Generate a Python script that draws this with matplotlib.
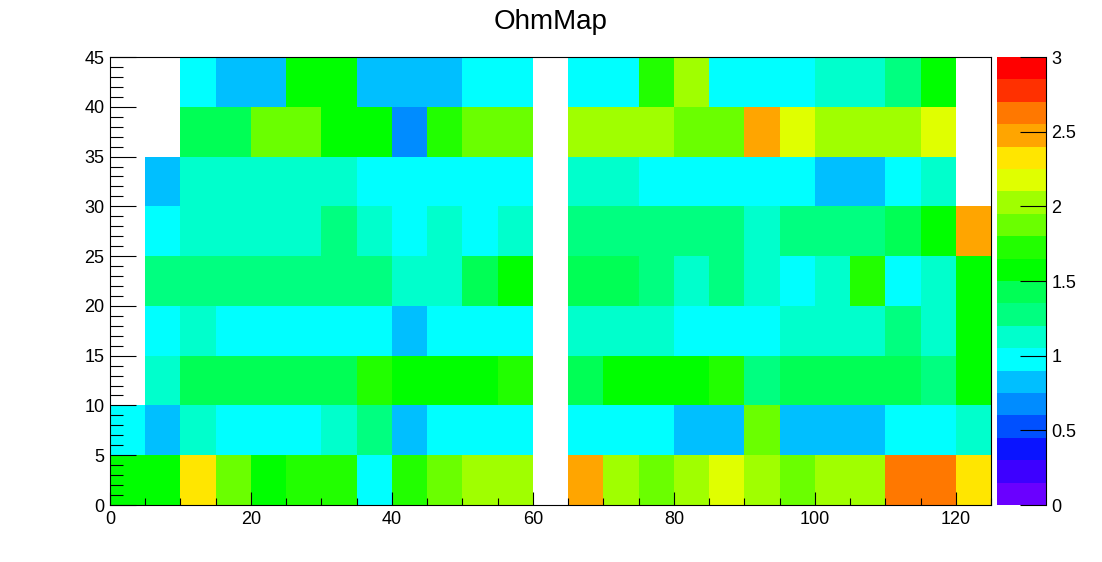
import numpy as np
import matplotlib
matplotlib.use("Agg")
import matplotlib.pyplot as plt
from matplotlib.colors import ListedColormap, BoundaryNorm
from matplotlib.ticker import MultipleLocator, FuncFormatter

plt.rcParams['font.family'] = ['Liberation Sans', 'DejaVu Sans']

# bin edges
x_edges = np.arange(0, 130, 5)   # 25 bins, 0..125
y_edges = np.arange(0, 50, 5)    # 9 bins, 0..45

nan = np.nan
# rows from y=0-5 (bottom) up to y=40-45 (top), columns x=0-5 .. 120-125
row0 = [1.57, 1.57, 2.32, 1.87, 1.57, 1.72, 1.72, 0.97, 1.72, 1.87, 2.02, 2.02, nan,
        2.47, 2.02, 1.87, 2.02, 2.17, 2.02, 1.87, 2.02, 2.02, 2.62, 2.62, 2.32]
row1 = [0.97, 0.82, 1.12, 0.97, 0.97, 0.97, 1.12, 1.28, 0.82, 0.97, 0.97, 0.97, nan,
        0.97, 0.97, 0.97, 0.82, 0.82, 1.87, 0.82, 0.82, 0.82, 0.97, 0.97, 1.12]
row2 = [nan, 1.12, 1.42, 1.42, 1.42, 1.42, 1.42, 1.72, 1.57, 1.57, 1.57, 1.72, nan,
        1.42, 1.57, 1.57, 1.57, 1.72, 1.28, 1.42, 1.42, 1.42, 1.42, 1.28, 1.57]
row3 = [nan, 0.97, 1.12, 0.97, 0.97, 0.97, 0.97, 0.97, 0.82, 0.97, 0.97, 0.97, nan,
        1.12, 1.12, 1.12, 0.97, 0.97, 0.97, 1.12, 1.12, 1.12, 1.28, 1.12, 1.57]
row4 = [nan, 1.28, 1.28, 1.28, 1.28, 1.28, 1.28, 1.28, 1.12, 1.12, 1.42, 1.57, nan,
        1.42, 1.42, 1.28, 1.12, 1.28, 1.12, 0.97, 1.12, 1.72, 0.97, 1.12, 1.57]
row5 = [nan, 0.97, 1.12, 1.12, 1.12, 1.12, 1.28, 1.12, 0.97, 1.12, 0.97, 1.12, nan,
        1.28, 1.28, 1.28, 1.28, 1.28, 1.12, 1.28, 1.28, 1.28, 1.42, 1.57, 2.47]
row6 = [nan, 0.82, 1.12, 1.12, 1.12, 1.12, 1.12, 0.97, 0.97, 0.97, 0.97, 0.97, nan,
        1.12, 1.12, 0.97, 0.97, 0.97, 0.97, 0.97, 0.82, 0.82, 0.97, 1.12, nan]
row7 = [nan, nan, 1.42, 1.42, 1.87, 1.87, 1.57, 1.57, 0.67, 1.72, 1.87, 1.87, nan,
        2.02, 2.02, 2.02, 1.87, 1.87, 2.47, 2.17, 2.02, 2.02, 2.02, 2.17, nan]
row8 = [nan, nan, 0.97, 0.82, 0.82, 1.57, 1.57, 0.82, 0.82, 0.82, 0.97, 0.97, nan,
        0.97, 0.97, 1.72, 2.02, 0.97, 0.97, 0.97, 1.12, 1.12, 1.28, 1.57, nan]

ohm = np.ma.masked_invalid(np.array([row0, row1, row2, row3, row4, row5, row6, row7, row8]))

# ROOT-like rainbow palette, 20 contour levels between 0 and 3
palette = ['#6a00ff', '#3d00ff', '#0a14ff', '#0050ff', '#008cff',
           '#00bfff', '#00ffff', '#00ffcc', '#00ff80', '#00ff55',
           '#00ff00', '#22ff00', '#6aff00', '#a0ff00', '#e0ff00',
           '#ffe600', '#ffa500', '#ff7800', '#ff3000', '#ff0000']
levels = np.linspace(0, 3, 21)
cmap = ListedColormap(palette)
norm = BoundaryNorm(levels, cmap.N)

fig = plt.figure(figsize=(11.02, 5.62), dpi=100)
ax = fig.add_axes([110/1102, 57/562, 881/1102, 448/562])
cax = fig.add_axes([997/1102, 57/562, 49/1102, 448/562])

mesh = ax.pcolormesh(x_edges, y_edges, ohm, cmap=cmap, norm=norm)
ax.set_xlim(0, 125)
ax.set_ylim(0, 45)

ax.xaxis.set_major_locator(MultipleLocator(20))
ax.xaxis.set_minor_locator(MultipleLocator(5))
ax.yaxis.set_major_locator(MultipleLocator(5))
ax.yaxis.set_minor_locator(MultipleLocator(1))
ax.tick_params(axis='x', which='major', direction='in', length=9.4, width=0.8,
               labelsize=13, pad=4, top=False)
ax.tick_params(axis='x', which='minor', direction='in', length=4.7, width=0.8, top=False)
ax.tick_params(axis='y', which='major', direction='in', length=18.7, width=0.8,
               labelsize=13, pad=4, right=False)
ax.tick_params(axis='y', which='minor', direction='in', length=9.4, width=0.8, right=False)
for s in ax.spines.values():
    s.set_linewidth(0.8)

ax.set_title("OhmMap", fontsize=20, pad=20)

cb = fig.colorbar(mesh, cax=cax)
cb.outline.set_visible(False)
cb.set_ticks([0, 0.5, 1, 1.5, 2, 2.5, 3])
cb.minorticks_off()
cax.yaxis.set_major_formatter(FuncFormatter(lambda v, p: '%g' % v))
cax.tick_params(direction='in', length=18.7, width=0.8, labelsize=13, pad=4)
cax.spines['right'].set_visible(True)
cax.spines['right'].set_linewidth(0.8)

fig.savefig("out.png", dpi=100)
